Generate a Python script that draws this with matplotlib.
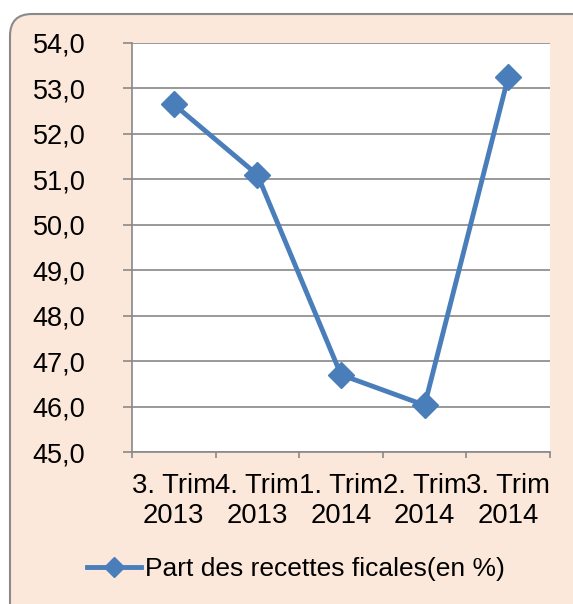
import matplotlib
matplotlib.use("Agg")
import matplotlib.pyplot as plt
import matplotlib.patches as mpatches
from matplotlib.transforms import IdentityTransform
from matplotlib.ticker import FuncFormatter

plt.rcParams['font.family'] = ['Liberation Sans', 'DejaVu Sans']

# data
quarters = ["3. Trim\n2013", "4. Trim\n2013", "1. Trim\n2014", "2. Trim\n2014", "3. Trim\n2014"]
part_recettes = [52.65, 51.1, 46.7, 46.03, 53.25]
series_name = "Part des recettes ficales(en %)"

blue = "#4A7EBB"
grey = "#888888"

fig = plt.figure(figsize=(5.73, 6.04), dpi=100)
fig.patch.set_facecolor("white")

# rounded peach background box (pixel coords)
shadow = mpatches.FancyBboxPatch((12, -32), 600, 620, boxstyle="round,pad=0,rounding_size=22",
                                 transform=IdentityTransform(), facecolor="#d0d0d0",
                                 edgecolor="none", alpha=0.6, zorder=0)
box = mpatches.FancyBboxPatch((10, -30), 600, 620, boxstyle="round,pad=0,rounding_size=22",
                              transform=IdentityTransform(), facecolor="#FCE8DA",
                              edgecolor="#8a8a8a", linewidth=1.5, zorder=1)
fig.add_artist(shadow)
fig.add_artist(box)

ax = fig.add_axes([132 / 573, 152 / 604, 418 / 573, 409 / 604])
ax.set_zorder(2)
ax.set_facecolor("white")

x = list(range(len(quarters)))
ax.plot(x, part_recettes, color=blue, linewidth=3.5, marker="D", markersize=13,
        label=series_name, clip_on=False, zorder=3)

ax.set_xlim(-0.5, len(quarters) - 0.5)
ax.set_ylim(45, 54)
ax.set_yticks(range(45, 55))
ax.yaxis.set_major_formatter(FuncFormatter(lambda v, p: f"{v:.1f}".replace(".", ",")))
ax.grid(axis="y", color=grey, linewidth=1.2)
ax.set_axisbelow(True)

# boundaries as major ticks, category labels on minor ticks
ax.set_xticks([i - 0.5 for i in range(len(quarters) + 1)])
ax.set_xticklabels([])
ax.set_xticks(x, minor=True)
ax.set_xticklabels(quarters, minor=True, fontsize=19.8, linespacing=1.2)
ax.tick_params(axis="x", which="major", length=4.5, color=grey, width=1.2)
ax.tick_params(axis="x", which="minor", length=0, pad=15)
ax.tick_params(axis="y", length=6.5, color=grey, width=1.2, pad=27, labelsize=19.5)

for s in ["top", "right"]:
    ax.spines[s].set_visible(False)
for s in ["left", "bottom"]:
    ax.spines[s].set_color(grey)
    ax.spines[s].set_linewidth(1.2)

ax.legend(loc="center left", bbox_to_anchor=(87 / 573, 35 / 604), bbox_transform=fig.transFigure,
          frameon=False, fontsize=19, borderpad=0, borderaxespad=0,
          handlelength=2.05, handletextpad=0.15, markerscale=0.75)

fig.savefig("out.png", dpi=100)
